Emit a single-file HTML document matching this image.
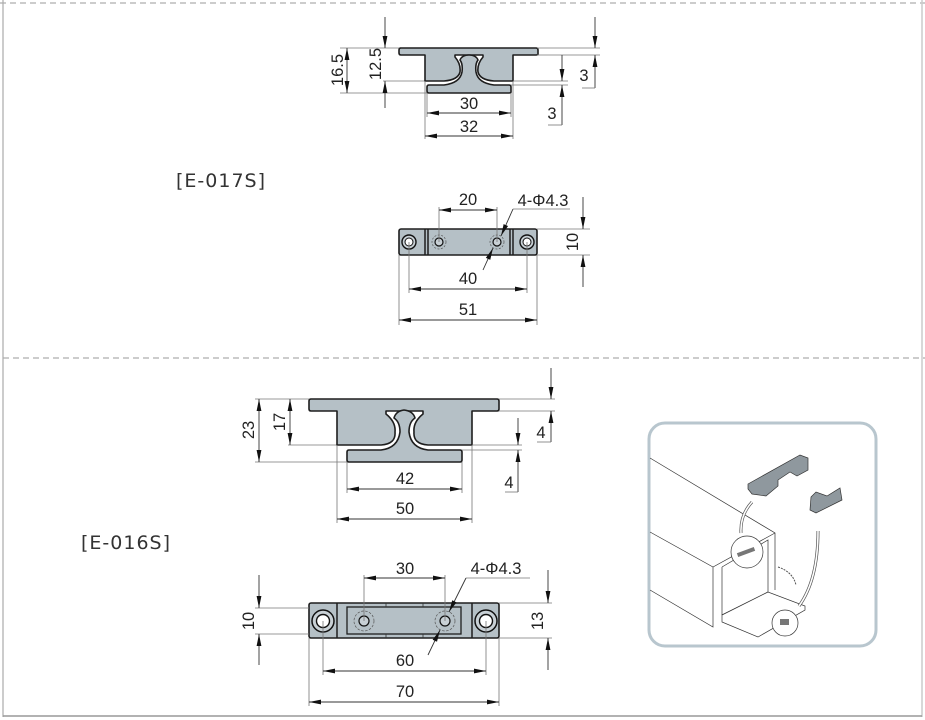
<!DOCTYPE html>
<html><head><meta charset="utf-8"><style>
html,body{margin:0;padding:0;background:#fff;}
svg{display:block;}
text{font-family:"Liberation Sans","DejaVu Sans",sans-serif;fill:#222;}
.d{stroke:#777;stroke-width:0.8;fill:none;}
.a{stroke:#333;stroke-width:0.9;fill:none;}
.p{fill:#b5c0c6;stroke:#1e1e1e;stroke-width:1.6;stroke-linejoin:round;}
.t{font-size:16.5px;text-anchor:middle;}
.lbl{font-family:"DejaVu Sans","Liberation Sans",sans-serif;font-size:19px;fill:#333;letter-spacing:1px;}
.il{stroke:#333;stroke-width:0.7;fill:none;}
</style></head><body>
<svg width="925" height="720" viewBox="0 0 925 720" xmlns="http://www.w3.org/2000/svg">
<defs>
<marker id="ar" markerWidth="12" markerHeight="6" refX="12" refY="3" orient="auto-start-reverse" markerUnits="userSpaceOnUse">
<path d="M0,0.6 L12,3 L0,5.4 Z" fill="#111"/></marker>
</defs>
<line x1="0" y1="3" x2="925" y2="3" stroke="#999" stroke-width="1" stroke-dasharray="6,4"/>
<line x1="3" y1="358" x2="925" y2="358" stroke="#999" stroke-width="1" stroke-dasharray="6,4"/>
<line x1="3" y1="0" x2="3" y2="717" stroke="#aaa" stroke-width="1.2"/>
<line x1="922" y1="0" x2="922" y2="717" stroke="#ccc" stroke-width="1.5"/>
<line x1="3" y1="716" x2="922" y2="716" stroke="#999" stroke-width="1.5"/>

<text class="lbl" x="176" y="187">[E-017S]</text>
<text class="lbl" x="81" y="549">[E-016S]</text>

<!-- E-017S profile -->
<g>
<line class="d" x1="340" y1="48" x2="399" y2="48"/>
<line class="d" x1="383" y1="81" x2="425" y2="81"/>
<line class="d" x1="340" y1="93" x2="427" y2="93"/>
<line class="a" x1="347" y1="48" x2="347" y2="93" marker-start="url(#ar)" marker-end="url(#ar)"/>
<line class="a" x1="385" y1="17" x2="385" y2="48" marker-end="url(#ar)"/>
<line class="a" x1="385" y1="81" x2="385" y2="108" marker-start="url(#ar)"/>
<text class="t" transform="translate(343,70) rotate(-90)">16.5</text>
<text class="t" transform="translate(381,64) rotate(-90)">12.5</text>
<path class="p" d="M400 48 H536 Q538 48 538 50 V54 Q538 55 536 55 H513 V81 H494 Q480 80 478 72 Q477 64 483 57 V55 H455 V57 Q461 64 460 72 Q458 80 444 81 H425 V55 H401 Q399 55 399 53 V50 Q399 48 401 48 Z"/>
<path class="p" d="M429 85 H444 Q460 83 462 72 Q463 64 460 60 Q462 55 469 55 Q476 55 478 60 Q475 64 476 72 Q478 83 494 85 H509 Q511 85 511 87 V92 Q511 93 509 93 H429 Q427 93 427 91 V87 Q427 85 429 85 Z"/>
<line class="d" x1="537" y1="48" x2="600" y2="48"/>
<line class="d" x1="537" y1="55" x2="600" y2="55"/>
<line class="a" x1="595" y1="17" x2="595" y2="48" marker-end="url(#ar)"/>
<line class="a" x1="595" y1="55" x2="595" y2="88" marker-start="url(#ar)"/>
<line class="d" x1="582" y1="88" x2="595" y2="88"/>
<text class="t" x="584" y="81">3</text>
<line class="d" x1="513" y1="81" x2="568" y2="81"/>
<line class="d" x1="511" y1="85" x2="568" y2="85"/>
<line class="a" x1="562" y1="55" x2="562" y2="81" marker-end="url(#ar)"/>
<line class="a" x1="562" y1="85" x2="562" y2="125" marker-start="url(#ar)"/>
<line class="d" x1="548" y1="125" x2="562" y2="125"/>
<text class="t" x="552" y="119">3</text>
<line class="d" x1="427" y1="93" x2="427" y2="117"/>
<line class="d" x1="511" y1="93" x2="511" y2="117"/>
<line class="a" x1="427" y1="113" x2="511" y2="113" marker-start="url(#ar)" marker-end="url(#ar)"/>
<text class="t" x="469" y="109">30</text>
<line class="d" x1="425" y1="81" x2="425" y2="139"/>
<line class="d" x1="513" y1="81" x2="513" y2="139"/>
<line class="a" x1="425" y1="136" x2="513" y2="136" marker-start="url(#ar)" marker-end="url(#ar)"/>
<text class="t" x="469" y="132">32</text>
</g>

<!-- E-017S top view -->
<g>
<rect class="p" x="399" y="229" width="138" height="26" rx="2"/>
<line x1="425" y1="229" x2="425" y2="255" stroke="#1e1e1e" stroke-width="1.5"/>
<line x1="428" y1="229" x2="428" y2="255" stroke="#1e1e1e" stroke-width="1.5"/>
<line x1="510" y1="229" x2="510" y2="255" stroke="#1e1e1e" stroke-width="1.5"/>
<line x1="513" y1="229" x2="513" y2="255" stroke="#1e1e1e" stroke-width="1.5"/>
<circle cx="409" cy="242" r="7" fill="#c8d0d5" stroke="#111" stroke-width="1.4"/>
<circle cx="409" cy="242" r="4" fill="#fff" stroke="#111" stroke-width="1"/>
<circle cx="527" cy="242" r="7" fill="#c8d0d5" stroke="#111" stroke-width="1.4"/>
<circle cx="527" cy="242" r="4" fill="#fff" stroke="#111" stroke-width="1"/>
<circle cx="439" cy="242" r="7" fill="none" stroke="#555" stroke-width="0.7" stroke-dasharray="2,1.5"/>
<circle cx="439" cy="242" r="4" fill="#c8d0d5" stroke="#111" stroke-width="1.2"/>
<circle cx="497" cy="242" r="7" fill="none" stroke="#555" stroke-width="0.7" stroke-dasharray="2,1.5"/>
<circle cx="497" cy="242" r="4" fill="#c8d0d5" stroke="#111" stroke-width="1.2"/>
<line class="d" x1="439" y1="207" x2="439" y2="242"/>
<line class="d" x1="497" y1="207" x2="497" y2="242"/>
<line class="a" x1="439" y1="210" x2="497" y2="210" marker-start="url(#ar)" marker-end="url(#ar)"/>
<text class="t" x="468" y="205">20</text>
<text class="t" x="543" y="206">4-Φ4.3</text>
<line class="d" x1="513" y1="209" x2="570" y2="209"/>
<line class="a" x1="513" y1="209" x2="501" y2="236" marker-end="url(#ar)"/>
<line class="a" x1="483" y1="270" x2="493" y2="248" marker-end="url(#ar)"/>
<line class="d" x1="537" y1="229" x2="590" y2="229"/>
<line class="d" x1="537" y1="255" x2="590" y2="255"/>
<line class="a" x1="583" y1="197" x2="583" y2="229" marker-end="url(#ar)"/>
<line class="a" x1="583" y1="255" x2="583" y2="287" marker-start="url(#ar)"/>
<text class="t" transform="translate(578,242) rotate(-90)">10</text>
<line class="d" x1="409" y1="242" x2="409" y2="293"/>
<line class="d" x1="527" y1="242" x2="527" y2="293"/>
<line class="a" x1="409" y1="289" x2="527" y2="289" marker-start="url(#ar)" marker-end="url(#ar)"/>
<text class="t" x="468" y="284">40</text>
<line class="d" x1="399" y1="255" x2="399" y2="325"/>
<line class="d" x1="537" y1="255" x2="537" y2="325"/>
<line class="a" x1="399" y1="320" x2="537" y2="320" marker-start="url(#ar)" marker-end="url(#ar)"/>
<text class="t" x="468" y="315">51</text>
</g>

<!-- E-016S profile -->
<g>
<line class="d" x1="255" y1="399" x2="309" y2="399"/>
<line class="d" x1="288" y1="445" x2="337" y2="445"/>
<line class="d" x1="255" y1="462" x2="347" y2="462"/>
<line class="a" x1="259" y1="399" x2="259" y2="462" marker-start="url(#ar)" marker-end="url(#ar)"/>
<line class="a" x1="290" y1="399" x2="290" y2="445" marker-start="url(#ar)" marker-end="url(#ar)"/>
<text class="t" transform="translate(254,430) rotate(-90)">23</text>
<text class="t" transform="translate(285,422) rotate(-90)">17</text>
<path class="p" d="M311 399 H497 Q499 399 499 401 V409 Q499 411 497 411 H472 V445 H428 Q413 444 414 432 Q413 422 423 414 V411 H386 V414 Q396 422 395 432 Q396 444 381 445 H337 V411 H311 Q309 411 309 409 V401 Q309 399 311 399 Z"/>
<path class="p" d="M349 450 H381 Q398 448 400 432 Q400 422 394 418 Q396 411 404 410 Q413 411 415 418 Q409 422 409 432 Q411 448 428 450 H460 Q462 450 462 452 V460 Q462 462 460 462 H349 Q347 462 347 460 V452 Q347 450 349 450 Z"/>
<line class="d" x1="499" y1="399" x2="555" y2="399"/>
<line class="d" x1="499" y1="411" x2="555" y2="411"/>
<line class="a" x1="551" y1="368" x2="551" y2="399" marker-end="url(#ar)"/>
<line class="a" x1="551" y1="411" x2="551" y2="442" marker-start="url(#ar)"/>
<line class="d" x1="537" y1="442" x2="551" y2="442"/>
<text class="t" x="541" y="438">4</text>
<line class="d" x1="472" y1="445" x2="522" y2="445"/>
<line class="d" x1="462" y1="450" x2="522" y2="450"/>
<line class="a" x1="518" y1="418" x2="518" y2="445" marker-end="url(#ar)"/>
<line class="a" x1="518" y1="450" x2="518" y2="492" marker-start="url(#ar)"/>
<line class="d" x1="505" y1="492" x2="518" y2="492"/>
<text class="t" x="509" y="488">4</text>
<line class="d" x1="347" y1="462" x2="347" y2="493"/>
<line class="d" x1="462" y1="462" x2="462" y2="493"/>
<line class="a" x1="347" y1="489" x2="462" y2="489" marker-start="url(#ar)" marker-end="url(#ar)"/>
<text class="t" x="405" y="484">42</text>
<line class="d" x1="337" y1="445" x2="337" y2="523"/>
<line class="d" x1="472" y1="445" x2="472" y2="523"/>
<line class="a" x1="337" y1="519" x2="472" y2="519" marker-start="url(#ar)" marker-end="url(#ar)"/>
<text class="t" x="405" y="514">50</text>
</g>

<!-- E-016S top view -->
<g>
<rect class="p" x="309" y="603" width="190" height="35" rx="2"/>
<line x1="337" y1="603" x2="337" y2="638" stroke="#1e1e1e" stroke-width="1.5"/>
<line x1="472" y1="603" x2="472" y2="638" stroke="#1e1e1e" stroke-width="1.5"/>
<rect x="347" y="607" width="114" height="27" fill="none" stroke="#1e1e1e" stroke-width="1.3"/>
<line x1="386" y1="603" x2="386" y2="607" stroke="#333" stroke-width="0.8"/>
<line x1="423" y1="603" x2="423" y2="607" stroke="#333" stroke-width="0.8"/>
<line x1="386" y1="634" x2="386" y2="638" stroke="#333" stroke-width="0.8"/>
<line x1="423" y1="634" x2="423" y2="638" stroke="#333" stroke-width="0.8"/>
<circle cx="323" cy="621" r="11" fill="#c8d0d5" stroke="#111" stroke-width="1.5"/>
<circle cx="323" cy="621" r="6.5" fill="#fff" stroke="#111" stroke-width="1.4"/>
<circle cx="486" cy="621" r="11" fill="#c8d0d5" stroke="#111" stroke-width="1.5"/>
<circle cx="486" cy="621" r="6.5" fill="#fff" stroke="#111" stroke-width="1.4"/>
<circle cx="364" cy="621" r="10" fill="none" stroke="#555" stroke-width="0.7" stroke-dasharray="2.5,1.5"/>
<circle cx="364" cy="621" r="5" fill="#c8d0d5" stroke="#111" stroke-width="1.2"/>
<circle cx="445" cy="621" r="10" fill="none" stroke="#555" stroke-width="0.7" stroke-dasharray="2.5,1.5"/>
<circle cx="445" cy="621" r="5" fill="#c8d0d5" stroke="#111" stroke-width="1.2"/>
<line class="d" x1="364" y1="575" x2="364" y2="621"/>
<line class="d" x1="445" y1="575" x2="445" y2="621"/>
<line class="a" x1="364" y1="578" x2="445" y2="578" marker-start="url(#ar)" marker-end="url(#ar)"/>
<text class="t" x="405" y="574">30</text>
<text class="t" x="496" y="574">4-Φ4.3</text>
<line class="d" x1="466" y1="578" x2="530" y2="578"/>
<line class="a" x1="466" y1="578" x2="449" y2="612" marker-end="url(#ar)"/>
<line class="a" x1="428" y1="655" x2="440" y2="630" marker-end="url(#ar)"/>
<line class="d" x1="255" y1="608" x2="309" y2="608"/>
<line class="d" x1="255" y1="634" x2="309" y2="634"/>
<line class="a" x1="259" y1="575" x2="259" y2="608" marker-end="url(#ar)"/>
<line class="a" x1="259" y1="634" x2="259" y2="665" marker-start="url(#ar)"/>
<text class="t" transform="translate(254,621) rotate(-90)">10</text>
<line class="d" x1="499" y1="603" x2="552" y2="603"/>
<line class="d" x1="499" y1="638" x2="552" y2="638"/>
<line class="a" x1="548" y1="570" x2="548" y2="603" marker-end="url(#ar)"/>
<line class="a" x1="548" y1="638" x2="548" y2="670" marker-start="url(#ar)"/>
<text class="t" transform="translate(543,621) rotate(-90)">13</text>
<line class="d" x1="323" y1="621" x2="323" y2="675"/>
<line class="d" x1="486" y1="621" x2="486" y2="675"/>
<line class="a" x1="323" y1="671" x2="486" y2="671" marker-start="url(#ar)" marker-end="url(#ar)"/>
<text class="t" x="405" y="666">60</text>
<line class="d" x1="309" y1="638" x2="309" y2="706"/>
<line class="d" x1="499" y1="638" x2="499" y2="706"/>
<line class="a" x1="309" y1="702" x2="499" y2="702" marker-start="url(#ar)" marker-end="url(#ar)"/>
<text class="t" x="405" y="697">70</text>
</g>

<!-- illustration -->
<g>
<rect x="649" y="423" width="227" height="223" rx="16" fill="#fff" stroke="#b8c6ce" stroke-width="3"/>
<polyline class="il" points="650,458 775,533 775,590"/>
<polyline class="il" points="650,532 713,567 775,533"/>
<polyline class="il" points="650,590 713,627 713,567"/>
<polyline class="il" points="722,567 768,540 768,592"/>
<line class="il" x1="722" y1="567" x2="722" y2="615"/>
<line class="il" x1="722" y1="615" x2="768" y2="592"/>
<polygon points="722,615 768,592 805,606 805,610 758,637 722,622" fill="#fff" stroke="#333" stroke-width="0.7"/>
<polygon points="748,484 800,455 808,458 808,470 797,476 790,472 778,480 778,486 766,496 752,494 748,489" fill="#8f989e" stroke="#333" stroke-width="0.7"/>
<polygon points="811,497 816,492 827,496 840,488 842,500 816,513 810,510" fill="#8f989e" stroke="#333" stroke-width="0.7"/>
<circle cx="747" cy="552" r="16" fill="#fff" stroke="#333" stroke-width="0.7"/>
<rect x="737" y="550" width="18" height="4" fill="#777" transform="rotate(-20 746 552)"/>
<circle cx="785" cy="623" r="13" fill="#fff" stroke="#333" stroke-width="0.7"/>
<rect x="780" y="619" width="9" height="6" fill="#777"/>
<path d="M752,502 Q740,515 741,533" stroke="#555" stroke-width="3" fill="none"/>
<path d="M752,502 Q740,515 741,533" stroke="#fff" stroke-width="1.6" fill="none"/>
<path d="M818,531 Q818,580 799,606" stroke="#555" stroke-width="3" fill="none"/>
<path d="M818,531 Q818,580 799,606" stroke="#fff" stroke-width="1.6" fill="none"/>
<path d="M778,567 Q793,572 796,585" stroke="#555" stroke-width="1" fill="none" stroke-dasharray="2,1"/>
</g>
</svg>
</body></html>
